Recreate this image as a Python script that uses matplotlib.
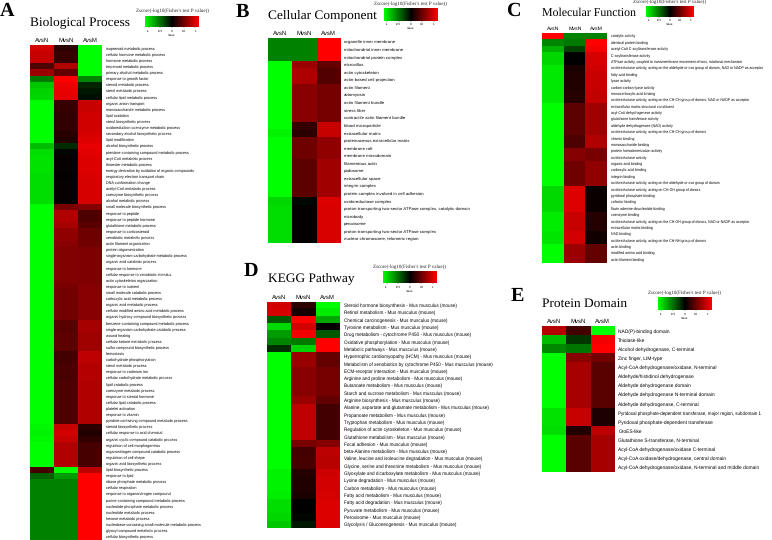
import numpy as np
import matplotlib
matplotlib.use("Agg")
import matplotlib.pyplot as plt
from matplotlib.colors import LinearSegmentedColormap

plt.rcParams["font.family"] = "Liberation Sans"
plt.rcParams["text.hinting"] = "no_hinting"

W, H = 772, 540
comparisons = ["AvsN", "MvsN", "AvsM"]
cbar_title = "Zscore(-log10(Fisher's test P value))"
cbar_ticks = [-1, -0.5, 0, 0.5, 1]

# A - Biological Process
bp_terms = [
    "isoprenoid metabolic process", "cellular hormone metabolic process", "hormone metabolic process",
    "terpenoid metabolic process", "primary alcohol metabolic process", "response to growth factor",
    "steroid metabolic process", "sterol metabolic process", "cellular lipid metabolic process",
    "organic anion transport", "monosaccharide metabolic process", "lipid oxidation",
    "sterol biosynthetic process", "oxidoreduction coenzyme metabolic process",
    "secondary alcohol biosynthetic process", "lipid modification", "alcohol biosynthetic process",
    "pteridine-containing compound metabolic process", "acyl-CoA metabolic process",
    "thioester metabolic process", "energy derivation by oxidation of organic compounds",
    "respiratory electron transport chain", "DNA conformation change", "acetyl-CoA metabolic process",
    "coenzyme biosynthetic process", "alcohol metabolic process", "small molecule biosynthetic process",
    "response to peptide", "response to peptide hormone", "glutathione metabolic process",
    "response to corticosteroid", "xenobiotic metabolic process", "actin filament organization",
    "protein oligomerization", "single-organism carbohydrate metabolic process",
    "organic acid catabolic process", "response to hormone", "cellular response to xenobiotic stimulus",
    "actin cytoskeleton organization", "response to nutrient", "small molecule catabolic process",
    "carboxylic acid metabolic process", "organic acid metabolic process",
    "cellular modified amino acid metabolic process", "organic hydroxy compound biosynthetic process",
    "benzene-containing compound metabolic process", "single-organism carbohydrate catabolic process",
    "wound healing", "cellular ketone metabolic process", "sulfur compound biosynthetic process",
    "hemostasis", "carbohydrate phosphorylation", "sterol metabolic process", "response to cadmium ion",
    "cellular carbohydrate metabolic process", "lipid catabolic process", "coenzyme metabolic process",
    "response to steroid hormone", "cellular lipid catabolic process", "platelet activation",
    "response to vitamin", "pyridine-containing compound metabolic process",
    "steroid biosynthetic process", "cellular response to acid chemical",
    "organic cyclic compound catabolic process", "regulation of cell morphogenesis",
    "organonitrogen compound catabolic process", "regulation of cell shape",
    "organic acid biosynthetic process", "lipid biosynthetic process", "response to lipid",
    "ribose phosphate metabolic process", "cellular respiration", "response to organonitrogen compound",
    "purine-containing compound metabolic process", "nucleotide phosphate metabolic process",
    "nucleotide metabolic process", "hexose metabolic process",
    "nucleobase-containing small molecule metabolic process", "glyoxyl compound metabolic process",
    "cellular biosynthetic process",
]
bp_avsn = [
    0.95, 0.90, 0.90, 0.35, 0.70, -0.55, -0.90, -0.95, -0.97, -1.15, -1.15, -1.15, -1.15, -1.15, -1.15, -1.15,
    -0.85, -1.00, -1.02, -1.02, -1.02, -1.00, -1.00, -1.00, -1.00, -1.00, -1.15, -1.15, -1.15, -1.15, -1.15, -1.15,
    -1.15, -1.15, -1.15, -1.15, -1.15, -1.15, -1.15, -1.15, -1.15, -1.15, -1.15, -1.15, -1.15, -1.15, -1.15, -1.15,
    -1.15, -1.15, -1.15, -1.15, -1.15, -1.15, -1.15, -1.15, -1.15, -1.15, -1.15, -1.15, -1.15, -1.15, -1.12, -1.10,
    -1.12, -1.15, -1.15, -1.15, -1.15, 0.30, -0.45, -0.58, -0.58, -0.58, -0.58, -0.58, -0.58, -0.58, -0.58, -0.58,
    -0.58,
]
bp_mvsn = [
    0.20, 0.25, 0.25, 0.80, 0.45, 1.15, 1.07, 1.05, 1.03, 0.25, 0.25, 0.22, 0.22, 0.22, 0.18, 0.15,
    -0.20, -0.02, 0.03, 0.03, 0.03, 0.02, 0.03, 0.03, 0.03, 0.03, 0.55, 0.80, 0.80, 0.75, 0.65, 0.65,
    0.62, 0.58, 0.58, 0.58, 0.58, 0.58, 0.58, 0.55, 0.52, 0.52, 0.52, 0.52, 0.52, 0.40, 0.40, 0.42,
    0.42, 0.42, 0.30, 0.30, 0.33, 0.33, 0.33, 0.35, 0.35, 0.35, 0.35, 0.35, 0.35, 0.35, 0.90, 0.95,
    0.90, 0.80, 0.80, 0.80, 0.80, -1.15, -0.70, -0.58, -0.58, -0.58, -0.58, -0.58, -0.58, -0.58, -0.58, -0.58,
    -0.58,
]
bp_avsm = [
    -1.15, -1.15, -1.15, -1.15, -1.15, -0.60, -0.17, -0.10, -0.07, 0.90, 0.90, 0.93, 0.93, 0.93, 0.97, 1.00,
    1.05, 1.02, 1.00, 1.00, 1.00, 0.98, 0.97, 0.97, 0.97, 0.97, 0.60, 0.35, 0.35, 0.40, 0.50, 0.50,
    0.52, 0.57, 0.57, 0.57, 0.57, 0.57, 0.57, 0.60, 0.62, 0.62, 0.62, 0.62, 0.62, 0.75, 0.75, 0.72,
    0.72, 0.72, 0.85, 0.85, 0.82, 0.82, 0.82, 0.80, 0.80, 0.80, 0.80, 0.80, 0.80, 0.80, 0.20, 0.15,
    0.22, 0.32, 0.32, 0.32, 0.32, 0.85, 1.15, 1.15, 1.15, 1.15, 1.15, 1.15, 1.15, 1.15, 1.15, 1.15,
    1.15,
]

# B - Cellular Component
cc_terms = [
    "organelle inner membrane", "mitochondrial inner membrane", "mitochondrial protein complex", "microvillus",
    "actin cytoskeleton", "actin-based cell projection", "actin filament", "actomyosin", "actin filament bundle",
    "stress fiber", "contractile actin filament bundle", "blood microparticle", "extracellular matrix",
    "proteinaceous extracellular matrix", "membrane raft", "membrane microdomain", "filamentous actin", "podosome",
    "extracellular space", "integrin complex", "protein complex involved in cell adhesion",
    "oxidoreductase complex", "proton-transporting two-sector ATPase complex, catalytic domain", "microbody",
    "peroxisome", "proton-transporting two-sector ATPase complex", "nuclear chromosome, telomeric region",
]
cc_avsn = [-0.58, -0.58, -0.58, -1.15, -1.15, -1.15, -1.15, -1.15, -1.15, -1.15, -1.15, -1.15, -1.10, -1.15,
           -1.15, -1.15, -1.15, -1.15, -1.15, -1.15, -1.15, -0.97, -1.00, -1.00, -1.00, -1.00, -1.00]
cc_mvsn = [-0.58, -0.58, -0.58, 0.70, 0.78, 0.78, 0.62, 0.62, 0.62, 0.62, 0.62, 0.25, 0.20, 0.50,
           0.50, 0.50, 0.42, 0.42, 0.42, 0.42, 0.42, -0.03, 0.02, 0.02, 0.02, 0.02, 0.02]
cc_avsm = [1.15, 1.15, 1.15, 0.45, 0.37, 0.37, 0.53, 0.53, 0.53, 0.53, 0.53, 0.90, 0.90, 0.65,
           0.65, 0.65, 0.73, 0.73, 0.73, 0.73, 0.73, 1.00, 0.98, 0.98, 0.98, 0.98, 0.98]

# C - Molecular Function
mf_terms = [
    "catalytic activity", "identical protein binding", "acetyl-CoA C-acyltransferase activity",
    "C-acyltransferase activity", "ATPase activity, coupled to transmembrane movement of ions, rotational mechanism",
    "oxidoreductase activity, acting on the aldehyde or oxo group of donors, NAD or NADP as acceptor",
    "fatty acid binding", "lyase activity", "carbon-carbon lyase activity", "monocarboxylic acid binding",
    "oxidoreductase activity, acting on the CH-CH group of donors, NAD or NADP as acceptor",
    "extracellular matrix structural constituent", "acyl-CoA dehydrogenase activity",
    "glutathione transferase activity", "aldehyde dehydrogenase (NAD) activity",
    "oxidoreductase activity, acting on the CH-CH group of donors", "vitamin binding", "monosaccharide binding",
    "protein homodimerization activity", "oxidoreductase activity", "organic acid binding",
    "carboxylic acid binding", "integrin binding",
    "oxidoreductase activity, acting on the aldehyde or oxo group of donors",
    "oxidoreductase activity, acting on CH-OH group of donors", "pyridoxal phosphate binding", "cofactor binding",
    "flavin adenine dinucleotide binding", "coenzyme binding",
    "oxidoreductase activity, acting on the CH-OH group of donors, NAD or NADP as acceptor",
    "extracellular matrix binding", "NAD binding", "oxidoreductase activity, acting on the CH-NH group of donors",
    "actin binding", "modified amino acid binding", "actin filament binding",
]
mf_avsn = [1.15, -0.60, -0.80, -0.97, -0.97, -1.05, -1.05, -1.05, -1.05, -1.05, -1.05, -1.15, -1.15, -1.15, -1.15,
           -1.15, -1.15, -1.15, -1.15, -1.15, -1.15, -1.15, -1.15, -1.15, -0.98, -0.98, -0.98, -0.98, -1.07, -1.07,
           -1.07, -1.03, -1.03, -1.15, -1.15, -1.15]
mf_mvsn = [-0.58, -0.55, -0.30, 0.00, 0.00, 0.12, 0.15, 0.15, 0.15, 0.18, 0.18, 0.42, 0.42, 0.42, 0.42,
           0.42, 0.35, 0.35, 0.60, 0.60, 0.50, 0.50, 0.50, 0.50, 1.00, 1.00, 1.00, 1.00, 0.90, 0.90,
           0.90, 0.95, 0.95, 0.70, 0.70, 0.70]
mf_avsm = [-0.58, 1.15, 1.10, 0.97, 0.97, 0.93, 0.90, 0.90, 0.90, 0.87, 0.87, 0.73, 0.73, 0.73, 0.73,
           0.73, 0.80, 0.80, 0.55, 0.55, 0.65, 0.65, 0.65, 0.65, 0.05, 0.05, 0.05, 0.05, 0.17, 0.17,
           0.17, 0.08, 0.08, 0.45, 0.45, 0.45]

# D - KEGG Pathway
kegg_terms = [
    "Steroid hormone biosynthesis - Mus musculus (mouse)", "Retinol metabolism - Mus musculus (mouse)",
    "Chemical carcinogenesis - Mus musculus (mouse)", "Tyrosine metabolism - Mus musculus (mouse)",
    "Drug metabolism - cytochrome P450 - Mus musculus (mouse)", "Oxidative phosphorylation - Mus musculus (mouse)",
    "Metabolic pathways - Mus musculus (mouse)", "Hypertrophic cardiomyopathy (HCM) - Mus musculus (mouse)",
    "Metabolism of xenobiotics by cytochrome P450 - Mus musculus (mouse)",
    "ECM-receptor interaction - Mus musculus (mouse)", "Arginine and proline metabolism - Mus musculus (mouse)",
    "Butanoate metabolism - Mus musculus (mouse)", "Starch and sucrose metabolism - Mus musculus (mouse)",
    "Arginine biosynthesis - Mus musculus (mouse)",
    "Alanine, aspartate and glutamate metabolism - Mus musculus (mouse)",
    "Propanoate metabolism - Mus musculus (mouse)", "Tryptophan metabolism - Mus musculus (mouse)",
    "Regulation of actin cytoskeleton - Mus musculus (mouse)", "Glutathione metabolism - Mus musculus (mouse)",
    "Focal adhesion - Mus musculus (mouse)", "beta-Alanine metabolism - Mus musculus (mouse)",
    "Valine, leucine and isoleucine degradation - Mus musculus (mouse)",
    "Glycine, serine and threonine metabolism - Mus musculus (mouse)",
    "Glyoxylate and dicarboxylate metabolism - Mus musculus (mouse)", "Lysine degradation - Mus musculus (mouse)",
    "Carbon metabolism - Mus musculus (mouse)", "Fatty acid metabolism - Mus musculus (mouse)",
    "Fatty acid degradation - Mus musculus (mouse)", "Pyruvate metabolism - Mus musculus (mouse)",
    "Peroxisome - Mus musculus (mouse)", "Glycolysis / Gluconeogenesis - Mus musculus (mouse)",
]
kegg_avsn = [0.95, 0.97, -0.40, -0.98, -0.70, -0.60, -0.20, -1.15, -1.15, -1.15, -1.15, -1.15, -1.15, -1.15, -1.15,
             -1.15, -1.15, -1.15, -1.15, -1.15, -1.15, -1.15, -1.15, -1.10, -1.10, -1.10, -1.08, -1.00, -1.00,
             -0.97, -0.90]
kegg_mvsn = [0.20, 0.10, 1.15, 0.95, 1.10, -0.55, -0.95, 0.70, 0.70, 0.62, 0.62, 0.62, 0.62, 0.70, 0.85,
             0.85, 0.85, 0.85, 0.85, 0.55, 0.30, 0.32, 0.32, 0.17, 0.15, 0.15, 0.12, 0.00, 0.00,
             -0.03, -0.10]
kegg_avsm = [-1.15, -1.07, -0.75, 0.03, -0.40, 1.15, 1.15, 0.45, 0.45, 0.53, 0.53, 0.53, 0.53, 0.45, 0.30,
             0.30, 0.30, 0.30, 0.30, 0.60, 0.85, 0.83, 0.83, 0.93, 0.95, 0.95, 0.96, 1.00, 1.00,
             1.00, 1.00]

# E - Protein Domain
pd_terms = [
    "NAD(P)-binding domain", "Thiolase-like", "Alcohol dehydrogenase, C-terminal", "Zinc finger, LIM-type",
    "Acyl-CoA dehydrogenase/oxidase, N-terminal", "Aldehyde/histidinol dehydrogenase",
    "Aldehyde dehydrogenase domain", "Aldehyde dehydrogenase N-terminal domain", "Aldehyde dehydrogenase, C-terminal",
    "Pyridoxal phosphate-dependent transferase, major region, subdomain 1",
    "Pyridoxal phosphate-dependent transferase", "GroES-like", "Glutathione S-transferase, N-terminal",
    "Acyl-CoA dehydrogenase/oxidase C-terminal", "Acyl-CoA oxidase/dehydrogenase, central domain",
    "Acyl-CoA dehydrogenase/oxidase, N-terminal and middle domain",
]
pd_avsn = [0.82, -0.85, -0.62, -1.15, -1.15, -1.15, -1.15, -1.15, -1.15, -1.02, -1.02, -1.00, -1.15, -1.15, -1.15, -1.15]
pd_mvsn = [0.30, -0.25, -0.53, 0.62, 0.75, 0.75, 0.75, 0.75, 0.75, 0.90, 0.90, 0.15, 0.40, 0.40, 0.40, 0.40]
pd_avsm = [-1.15, 1.10, 1.15, 0.53, 0.40, 0.40, 0.40, 0.40, 0.40, 0.13, 0.13, 0.85, 0.75, 0.75, 0.75, 0.75]

cmap = LinearSegmentedColormap.from_list("gbr", ["#00ff00", "#000000", "#ff0000"])
vmax = 1.155

fig = plt.figure(figsize=(W / 100, H / 100), dpi=100)


def px_axes(x0, y0, x1, y1):
    # positions are given in image pixels, y from the top
    return fig.add_axes([x0 / W, 1 - y1 / H, (x1 - x0) / W, (y1 - y0) / H])


def px_text(x, y, s, **kw):
    fig.text(x / W, 1 - y / H, s, **kw)


def panel(letter, letter_xy, title, title_xy, title_size, box, terms, values, label_size, head_size, cbar_box):
    x0, y0, x1, y1 = box
    ax = px_axes(x0, y0, x1, y1)
    ax.imshow(np.array(values).T, cmap=cmap, vmin=-vmax, vmax=vmax, aspect="auto", interpolation="nearest")
    ax.set_xticks(range(3), comparisons, fontsize=head_size)
    ax.xaxis.tick_top()
    ax.set_yticks(range(len(terms)), terms, fontsize=label_size)
    ax.yaxis.tick_right()
    ax.tick_params(length=0, pad=1.4, axis="x")
    ax.tick_params(length=0, pad=2.6, axis="y")
    for s in ax.spines.values():
        s.set_visible(False)

    px_text(letter_xy[0], letter_xy[1], letter, family="Liberation Serif", weight="bold", fontsize=14.5,
            ha="left", va="baseline")
    px_text(title_xy[0], title_xy[1], title, family="Liberation Serif", fontsize=title_size, ha="left", va="center")

    # small colour key
    cx0, cy0, cx1, cy1 = cbar_box
    cax = px_axes(cx0, cy0, cx1, cy1)
    grad = np.linspace(-vmax, vmax, 256)[None, :]
    cax.imshow(grad, cmap=cmap, aspect="auto", extent=[-vmax, vmax, 0, 1])
    cax.set_yticks([])
    cax.set_xticks(cbar_ticks, ["-1", "-0.5", "0", "0.5", "1"], fontsize=2.2)
    cax.tick_params(length=1, width=0.3, pad=0.8, color="#333333")
    cax.set_xlabel("Value", fontsize=2.2, labelpad=0.8)
    for s in cax.spines.values():
        s.set_visible(False)
    px_text((cx0 + cx1) / 2, cy0 - 5, cbar_title, family="Liberation Serif", fontsize=3.6, ha="center", va="center",
            color="#222222")
    return ax


panel("A", (0, 16), "Biological Process", (30, 22), 9.6, (30, 45.4, 102, 540),
      bp_terms, [bp_avsn, bp_mvsn, bp_avsm], 2.72, 4.3, (145, 16, 199, 27))
panel("B", (235.5, 17), "Cellular Component", (268.3, 15), 9.6, (267.7, 38.3, 340.3, 243),
      cc_terms, [cc_avsn, cc_mvsn, cc_avsm], 3.2, 4.3, (383.7, 8.3, 437.3, 20.7))
panel("C", (506, 16), "Molecular Function", (542, 12.5), 8.6, (542.3, 33, 607.3, 262.7),
      mf_terms, [mf_avsn, mf_mvsn, mf_avsm], 2.55, 3.8, (645.7, 6.3, 693.7, 16.7))
panel("D", (244, 276), "KEGG Pathway", (267.7, 277.7), 9.6, (267.3, 301.7, 340, 528),
      kegg_terms, [kegg_avsn, kegg_mvsn, kegg_avsm], 3.3, 4.3, (383, 271.3, 436.7, 283))
ax_e = panel("E", (511, 301), "Protein Domain", (542, 304), 9.6, (542.3, 326.3, 614.7, 472),
             pd_terms, [pd_avsn, pd_mvsn, pd_avsm], 3.5, 4.3, (657.7, 297.3, 711.7, 310))
# longest domain label would run off the right edge otherwise
ax_e.get_yticklabels()[9].set_fontsize(3.25)

fig.savefig("out.png", dpi=100)
